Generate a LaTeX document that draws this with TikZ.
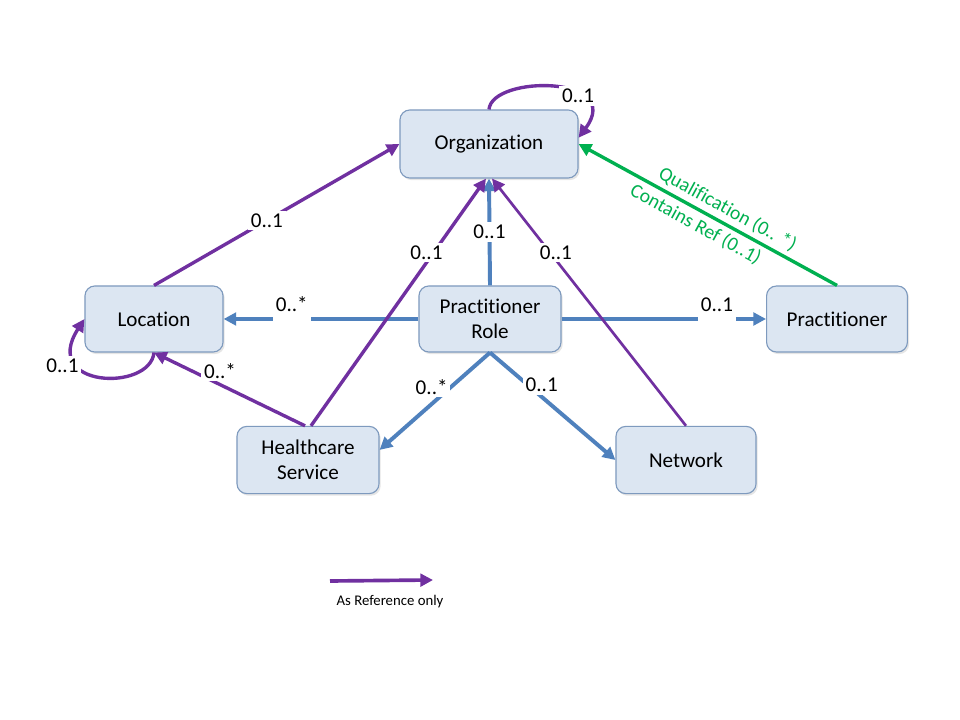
\documentclass[tikz,border=0pt]{standalone}
\usepackage{fontspec}
\setmainfont{Carlito}[Ligatures={NoCommon,NoContextual}]
\usetikzlibrary{arrows.meta,shadows}

\definecolor{refpurple}{RGB}{112,48,160}
\definecolor{relblue}{RGB}{79,129,189}
\definecolor{qualgreen}{RGB}{0,176,80}
\definecolor{boxfill}{RGB}{220,230,242}
\definecolor{boxline}{RGB}{126,154,190}

\begin{document}
\begin{tikzpicture}[
        x=0.025cm, y=-0.025cm,
        box/.style={rectangle, rounded corners=7pt, draw=boxline, line width=0.8pt,
            fill=boxfill, align=center, font=\fontsize{15}{18}\selectfont,
            drop shadow={opacity=0.2, shadow xshift=1.2pt, shadow yshift=-1.5pt}},
        ref/.style={draw=refpurple, line width=2.4pt, -{Triangle[length=9pt,width=9pt]}},
        has/.style={draw=relblue, line width=2.8pt, -{Triangle[length=9pt,width=9pt]}},
        qual/.style={draw=qualgreen, line width=2.4pt, -{Triangle[length=9pt,width=9pt]}},
        lbl/.style={fill=white, inner sep=2pt, font=\fontsize{15}{18}\selectfont, text=black},
        lblup/.style={lbl, above, yshift=-3pt, text depth=5pt},
        qlbl/.style={sloped, inner sep=3pt, font=\fontsize{14}{17}\selectfont, text=qualgreen}
    ]
        \useasboundingbox (0,0) rectangle (960,720);
        \fill[white] (0,0) rectangle (960,720);

        \node[box, minimum width=4.45cm, minimum height=1.7cm] (org) at (489,144) {Organization};
        \node[box, minimum width=3.45cm, minimum height=1.65cm] (loc) at (154,319) {Location};
        \node[box, minimum width=3.55cm, minimum height=1.65cm] (role) at (490,319) {Practitioner\\Role};
        \node[box, minimum width=3.52cm, minimum height=1.65cm] (prac) at (837,319) {Practitioner};
        \node[box, minimum width=3.55cm, minimum height=1.68cm] (hcs) at (308,460) {Healthcare\\Service};
        \node[box, minimum width=3.5cm, minimum height=1.68cm] (net) at (686,460) {Network};

        \draw[has] (role.north) -- node[lbl, pos=0.5] {0..1} (org.south);
        \draw[has] (role.west) -- node[lblup, pos=0.65] {0..*} (loc.east);
        \draw[has] (role.east) -- node[lblup, pos=0.76] {0..1} (prac.west);
        \draw[has] (role.south) -- node[lbl, pos=0.35, xshift=-14pt] {0..*} (hcs.8);
        \draw[has] (role.south) -- node[lbl, pos=0.3, xshift=10pt] {0..1} (net.west);

        \draw[ref] (loc.north) -- node[lbl, pos=0.46] {0..1} (org.west);
        \draw[ref] (hcs.85) -- node[lbl, pos=0.7, xshift=-5pt] {0..1} (org.-95);
        \draw[ref] (hcs.95) -- node[lbl, pos=0.6, xshift=4pt, yshift=8pt] {0..*} (loc.south);
        \draw[ref, line width=1.9pt] (net.north) -- node[lbl, pos=0.7, xshift=4pt] {0..1} (org.-85);
        \draw[ref] (org.north) .. controls (492,75) and (625,75) .. node[lbl, pos=0.68] {0..1} (org.4);
        \draw[ref] (loc.south) .. controls (150,392) and (40,388) .. node[lbl, pos=0.74, xshift=-10pt, yshift=-4pt] {0..1} (loc.west);

        \draw[qual] (prac.north) -- node[qlbl, pos=0.45, above] {Qualification (0.. *)}
            node[qlbl, pos=0.52, below] {Contains Ref (0..1)} (org.east);

        % legend
        \coordinate (lgA) at (330,581);
        \coordinate (lgB) at (433,580);
        \draw[ref, line width=2.6pt] (lgA) -- (lgB);
        \node[font=\fontsize{10.5}{12}\selectfont] (lgtext) at (390,602) {As Reference only};
    \end{tikzpicture}
\end{document}
